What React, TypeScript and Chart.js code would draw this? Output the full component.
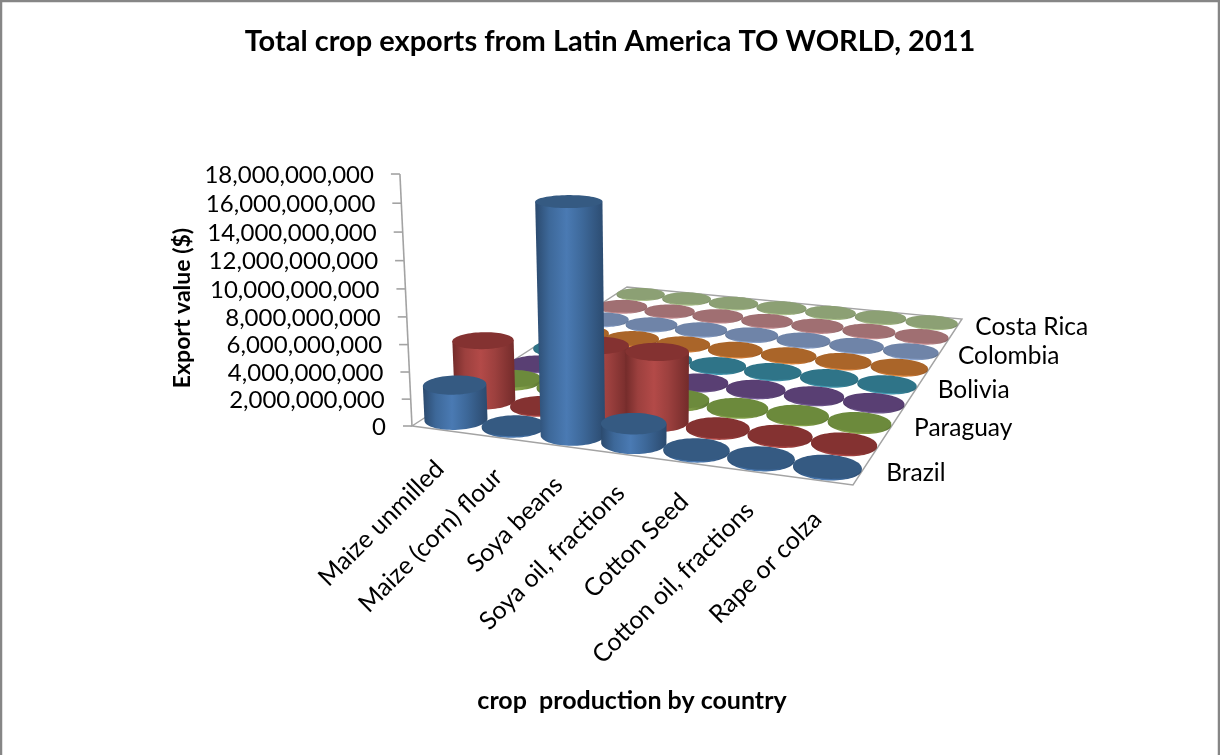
import React, { useEffect, useRef } from "react";
import { Chart, registerables, Plugin } from "chart.js";

Chart.register(...registerables);

// Crops along the front edge of the floor.
const crops = [
  "Maize unmilled",
  "Maize (corn) flour",
  "Soya beans",
  "Soya oil, fractions",
  "Cotton Seed",
  "Cotton oil, fractions",
  "Rape or colza",
];

// Rows from front to back; only every second row carries a depth label.
const rowLabels = ["Brazil", "", "Paraguay", "", "Bolivia", "", "Colombia", "", "Costa Rica"];

// Export values in dollars, one list per row.
const row0 = [2.6e9, 0.03e9, 16.5e9, 1.4e9, 0, 0, 0];
const row1 = [4.6e9, 0.02e9, 5.2e9, 5.2e9, 0, 0, 0];
const row2 = [0.25e9, 0, 0, 0.22e9, 0, 0, 0];
const row3 = [0.02e9, 0, 0, 0, 0, 0, 0];
const row4 = [0, 0, 0, 0, 0, 0, 0];
const row5 = [0, 0, 0, 0, 0, 0, 0];
const row6 = [0, 0, 0, 0, 0, 0, 0];
const row7 = [0, 0, 0, 0, 0, 0, 0];
const row8 = [0, 0, 0, 0, 0, 0, 0];
const rows = [row0, row1, row2, row3, row4, row5, row6, row7, row8];

// Per-row shading: cap colour, shaded side edge, half-lit side, lit side centre.
const capColors = ["#355a82", "#843231", "#6c8a3c", "#593f73", "#2f7488", "#aa6529", "#6f84a8", "#a06f72", "#8ca074"];
const edgeColors = ["#2b4a6e", "#732b2a", "#5b7632", "#4a3461", "#276272", "#8f5422", "#5d6f8d", "#865d60", "#768762"];
const midColors = ["#3d6899", "#9c403e", "#7f9c48", "#6a5287", "#3d8ca2", "#cc7a36", "#8299c0", "#b88488", "#a4b986"];
const litColors = ["#4a7ab3", "#b34a48", "#8fae52", "#775e98", "#46a0b8", "#e68c41", "#93add9", "#d19498", "#b8cf98"];

const FONT = "Lato, 'Open Sans', sans-serif";
const AXIS_GREY = "#a3a3a3";

// Floor quad in canvas space: front-left, front-right, back-right, back-left.
const quad = [
  [412, 426],
  [853, 485],
  [962, 319],
  [627, 287],
];
// Vanishing point of the vertical direction and the strength of the effect.
const VERT_VP = [665, 5700];
const VERT_K = 0.0456;

function makeHomography() {
  const [p0, p1, p2, p3] = quad;
  const dx1 = p1[0] - p2[0];
  const dx2 = p3[0] - p2[0];
  const sx = p0[0] - p1[0] + p2[0] - p3[0];
  const dy1 = p1[1] - p2[1];
  const dy2 = p3[1] - p2[1];
  const sy = p0[1] - p1[1] + p2[1] - p3[1];
  const den = dx1 * dy2 - dx2 * dy1;
  const g = (sx * dy2 - dx2 * sy) / den;
  const h = (dx1 * sy - sx * dy1) / den;
  return {
    a: p1[0] - p0[0] + g * p1[0],
    b: p3[0] - p0[0] + h * p3[0],
    c: p0[0],
    d: p1[1] - p0[1] + g * p1[1],
    e: p3[1] - p0[1] + h * p3[1],
    f: p0[1],
    g,
    h,
  };
}
const H = makeHomography();

// Fraction of a scale's range that a value sits at.
function frac(scale: any, value: number) {
  return scale.getDecimalForPixel(scale.getPixelForValue(value));
}

// u, v: position on the floor in 0..1. t: height as a fraction of the value axis.
function project(u: number, v: number, t: number): [number, number] {
  const s = VERT_K * t;
  const X = H.a * u + H.b * v + H.c - s * VERT_VP[0];
  const Y = H.d * u + H.e * v + H.f - s * VERT_VP[1];
  const W = H.g * u + H.h * v + 1 - s;
  return [X / W, Y / W];
}

function circle(u: number, v: number, ru: number, rv: number, t: number) {
  const pts: [number, number][] = [];
  for (let i = 0; i < 72; i++) {
    const a = (i / 72) * Math.PI * 2;
    pts.push(project(u + ru * Math.cos(a), v + rv * Math.sin(a), t));
  }
  return pts;
}

function tracePoly(ctx: CanvasRenderingContext2D, pts: [number, number][]) {
  ctx.beginPath();
  pts.forEach((p, i) => (i ? ctx.lineTo(p[0], p[1]) : ctx.moveTo(p[0], p[1])));
  ctx.closePath();
}

function drawCylinder(
  ctx: CanvasRenderingContext2D,
  u: number,
  v: number,
  ru: number,
  rv: number,
  t: number,
  row: number
) {
  const base = circle(u, v, ru, rv, 0);
  const top = circle(u, v, ru, rv, t);
  const n = base.length;
  const extreme = (pts: [number, number][], sign: number) => {
    let best = 0;
    pts.forEach((p, i) => {
      if (sign * p[0] > sign * pts[best][0]) best = i;
    });
    return best;
  };
  const bl = extreme(base, -1);
  const br = extreme(base, 1);
  const tl = extreme(top, -1);
  const tr = extreme(top, 1);
  const left = Math.min(base[bl][0], top[tl][0]);
  const right = Math.max(base[br][0], top[tr][0]);

  const grad = ctx.createLinearGradient(left, 0, right, 0);
  grad.addColorStop(0, edgeColors[row]);
  grad.addColorStop(0.2, midColors[row]);
  grad.addColorStop(0.45, litColors[row]);
  grad.addColorStop(0.68, midColors[row]);
  grad.addColorStop(1, edgeColors[row]);

  // Walk the base outline both ways between its extremes and keep the nearer arc.
  const arcA: [number, number][] = [];
  for (let i = bl; ; i = (i + 1) % n) {
    arcA.push(base[i]);
    if (i === br) break;
  }
  const arcB: [number, number][] = [];
  for (let i = bl; ; i = (i + n - 1) % n) {
    arcB.push(base[i]);
    if (i === br) break;
  }
  const meanY = (a: [number, number][]) => a.reduce((s, p) => s + p[1], 0) / a.length;
  const front = meanY(arcA) > meanY(arcB) ? arcA : arcB;

  ctx.beginPath();
  front.forEach((p, i) => (i ? ctx.lineTo(p[0], p[1]) : ctx.moveTo(p[0], p[1])));
  ctx.lineTo(top[tr][0], top[tr][1]);
  ctx.lineTo(top[tl][0], top[tl][1]);
  ctx.closePath();
  ctx.fillStyle = grad;
  ctx.fill();

  tracePoly(ctx, top);
  ctx.fillStyle = capColors[row];
  ctx.fill();
}

const floorChart: Plugin = {
  id: "floorChart",
  beforeDraw(chart) {
    const ctx = chart.ctx;
    ctx.save();
    ctx.fillStyle = "#ffffff";
    ctx.fillRect(0, 0, chart.width, chart.height);
    // Chart-area frame, open along the bottom.
    ctx.strokeStyle = "#868686";
    ctx.lineWidth = 2.5;
    ctx.beginPath();
    ctx.moveTo(1, chart.height + 2);
    ctx.lineTo(1, 1);
    ctx.lineTo(chart.width - 1, 1);
    ctx.lineTo(chart.width - 1, chart.height + 2);
    ctx.stroke();
    ctx.restore();
  },
  afterDatasetsDraw(chart) {
    const ctx = chart.ctx;
    const xs = chart.scales.x;
    const ys = chart.scales.y;
    const zs = chart.scales.z;
    const colStep = frac(xs, 1) - frac(xs, 0);
    const rowStep = frac(zs, 1) - frac(zs, 0);
    const minT = 0.006;

    ctx.save();

    // Floor outline.
    const corners: [number, number][] = [
      project(0, 0, 0),
      project(1, 0, 0),
      project(1, 1, 0),
      project(0, 1, 0),
    ];
    tracePoly(ctx, corners);
    ctx.strokeStyle = AXIS_GREY;
    ctx.lineWidth = 1.4;
    ctx.stroke();

    // Value axis with its ticks and labels.
    const axisBottom = project(0, 0, 0);
    const axisTop = project(0, 0, 1);
    ctx.strokeStyle = AXIS_GREY;
    ctx.lineWidth = 1.6;
    ctx.beginPath();
    ctx.moveTo(axisBottom[0], axisBottom[1]);
    ctx.lineTo(axisTop[0], axisTop[1]);
    ctx.stroke();

    ctx.fillStyle = "#000000";
    ctx.font = `24px ${FONT}`;
    ctx.textAlign = "right";
    ctx.textBaseline = "middle";
    ys.ticks.forEach((tick: { value: number }) => {
      const p = project(0, 0, frac(ys, tick.value));
      ctx.strokeStyle = AXIS_GREY;
      ctx.beginPath();
      ctx.moveTo(p[0] - 9, p[1]);
      ctx.lineTo(p[0], p[1]);
      ctx.stroke();
      ctx.fillText(tick.value.toLocaleString("en-US"), p[0] - 26, p[1] + 1);
    });

    // Cylinders, painted from the back row forward and left to right.
    for (let r = chart.data.datasets.length - 1; r >= 0; r--) {
      const points = chart.data.datasets[r].data as { x: number; y: number }[];
      const v = frac(zs, r + 0.5);
      points.forEach((pt) => {
        const t = Math.max(frac(ys, pt.y), minT);
        drawCylinder(ctx, frac(xs, pt.x), v, colStep * 0.495, rowStep * 0.47, t, r);
      });
    }

    // Crop names, slanted below the front edge.
    ctx.fillStyle = "#000000";
    ctx.font = `25px ${FONT}`;
    ctx.textAlign = "right";
    ctx.textBaseline = "middle";
    crops.forEach((name, i) => {
      const p = project(frac(xs, i + 0.5), 0, 0);
      ctx.save();
      ctx.translate(p[0] - 1, p[1] + 35);
      ctx.rotate(-Math.PI / 4);
      ctx.fillText(name, 0, 0);
      ctx.restore();
    });

    // Depth labels along the right edge.
    ctx.font = `24.5px ${FONT}`;
    ctx.textAlign = "left";
    rowLabels.forEach((name, r) => {
      if (!name) return;
      const p = project(1, frac(zs, r + 0.5), 0);
      ctx.fillText(name, p[0] + 25 - 0.9 * r, p[1] + 1);
    });

    // Axis captions.
    ctx.font = `bold 25px ${FONT}`;
    ctx.textAlign = "center";
    ctx.fillText("crop  production by country", 632, 701);
    ctx.save();
    ctx.font = `bold 23px ${FONT}`;
    ctx.translate(183, 308);
    ctx.rotate(-Math.PI / 2);
    ctx.fillText("Export value ($)", 0, 0);
    ctx.restore();

    ctx.restore();
  },
};

export default function App() {
  const ref = useRef<HTMLCanvasElement>(null);

  useEffect(() => {
    document.body.style.margin = "0";
    const chart = new Chart(ref.current!, {
      type: "scatter",
      data: {
        datasets: rows.map((values, r) => ({
          label: rowLabels[r],
          data: values.map((y, i) => ({ x: i + 0.5, y })),
          pointRadius: 0,
          showLine: false,
        })),
      },
      options: {
        responsive: false,
        animation: false,
        layout: { padding: 0 },
        plugins: {
          legend: { display: false },
          tooltip: { enabled: false },
          title: {
            display: true,
            text: "Total crop exports from Latin America TO WORLD, 2011",
            color: "#000000",
            font: { family: FONT, size: 29, weight: "bold" },
            padding: { top: 24, bottom: 0 },
          },
        },
        scales: {
          x: { type: "linear", display: false, min: 0, max: crops.length },
          y: {
            type: "linear",
            display: false,
            min: 0,
            max: 18000000000,
            ticks: { stepSize: 2000000000 },
          },
          z: { type: "linear", axis: "y", display: false, min: 0, max: rowLabels.length },
        },
      },
      plugins: [floorChart],
    } as any);
    return () => chart.destroy();
  }, []);

  return <canvas ref={ref} width={1220} height={755} style={{ display: "block" }} />;
}
